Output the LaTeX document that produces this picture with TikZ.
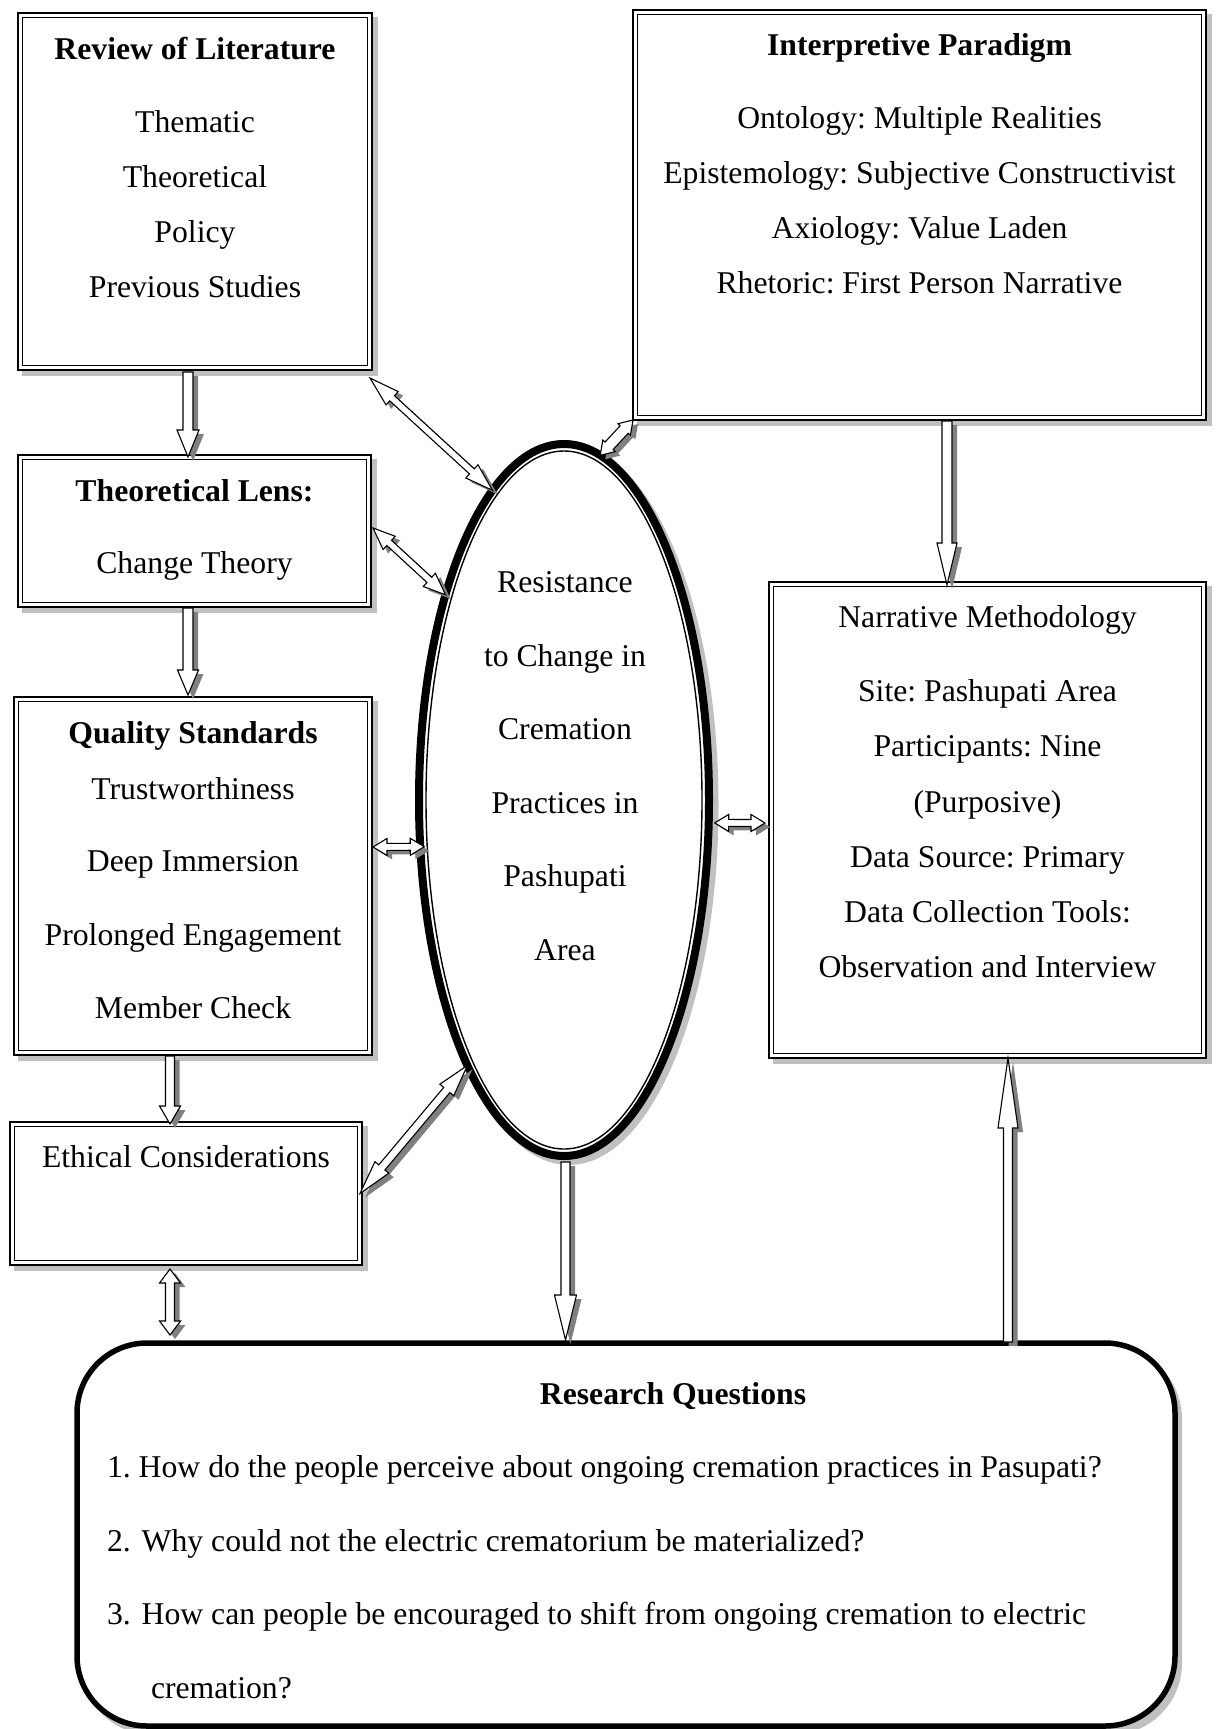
\documentclass[tikz,border=0pt]{standalone}
\usepackage{fontspec}
\setmainfont{Liberation Serif}
\usetikzlibrary{calc,shapes.geometric}
\definecolor{boxshadow}{HTML}{C0C0C0}
\definecolor{arrshadow}{HTML}{808080}
\frenchspacing

\tikzset{
  txt/.style={anchor=base, inner sep=0pt, outer sep=0pt, font=\fontsize{31.7pt}{38pt}\selectfont},
  ttl/.style={txt, font=\fontsize{31.7pt}{38pt}\selectfont\bfseries},
  ltxt/.style={txt, anchor=base west},
  framebox/.style={rectangle, draw=none, fill=white, inner sep=0pt, outer sep=0pt},
  outerline/.style={draw=black, line width=2.7pt},
  innerline/.style={draw=black, line width=1.4pt},
  arrowbody/.style={draw=black, fill=white, line width=1.1pt, line join=miter},
  arrowshade/.style={fill=arrshadow, draw=none},
}

% double-lined box with light shadow: name, x1, y1, x2, y2 (centre line of outer rule)
\newcommand{\dblbox}[5]{%
  \fill[boxshadow] ({#2+3.65},{#3+3.65}) rectangle ({#4+6.35},{#5+6.35});
  \node[framebox, minimum width={(#4-#2)*1pt}, minimum height={(#5-#3)*1pt}] (#1) at ({(#2+#4)/2},{(#3+#5)/2}) {};
  \draw[outerline] (#1.north west) rectangle (#1.south east);
  \draw[innerline] ($(#1.north west)+(4.4,4.4)$) rectangle ($(#1.south east)+(-4.4,-4.4)$);
}

\newcommand{\arrfill}[2]{%
  \path[#1] ($(q0)+#2$) -- ($(q1)+#2$) -- ($(q2)+#2$) -- ($(q3)+#2$) -- ($(q4)+#2$) --
    ($(q5)+#2$) -- ($(q6)+#2$) -- ($(q7)+#2$) -- ($(q8)+#2$) -- ($(q9)+#2$) -- cycle;
}

% block arrow: from, to, shaft half width, end head half width, end head length,
% start head half width, start head length
\newcommand{\blockarrow}[7]{%
  \coordinate (ba-a) at #1;
  \coordinate (ba-b) at #2;
  \coordinate (ba-e) at ($(ba-b)!#5pt!(ba-a)$);
  \coordinate (ba-s) at ($(ba-a)!#7pt!(ba-b)$);
  \coordinate (q0) at (ba-a);
  \coordinate (q1) at ($(ba-s)!#6pt!90:(ba-b)$);
  \coordinate (q2) at ($(ba-s)!#3pt!90:(ba-b)$);
  \coordinate (q3) at ($(ba-e)!#3pt!-90:(ba-a)$);
  \coordinate (q4) at ($(ba-e)!#4pt!-90:(ba-a)$);
  \coordinate (q5) at (ba-b);
  \coordinate (q6) at ($(ba-e)!#4pt!90:(ba-a)$);
  \coordinate (q7) at ($(ba-e)!#3pt!90:(ba-a)$);
  \coordinate (q8) at ($(ba-s)!#3pt!-90:(ba-b)$);
  \coordinate (q9) at ($(ba-s)!#6pt!-90:(ba-b)$);
  \arrfill{arrowshade}{(5,4)}
  \arrfill{arrowbody}{(0,0)}
}

\begin{document}
\begin{tikzpicture}[x=1pt, y=-1pt]
\useasboundingbox (0,0) rectangle (1219,1729);
\fill[white] (0,0) rectangle (1219,1729);

% ---------- boxes ----------
\dblbox{rol}{18}{13}{372}{370}
\dblbox{ip}{633}{10}{1206}{420}
\dblbox{tl}{18}{455}{371}{607}
\dblbox{qs}{14}{697}{372}{1055}
\dblbox{ec}{10}{1122}{362}{1265}
\dblbox{nm}{769}{582}{1206}{1058}

% research questions box
\fill[boxshadow, rounded corners=72pt] (81,1347) rectangle (1182,1735);
\node[rectangle, rounded corners=70pt, draw=black, line width=5.5pt, fill=white,
      inner sep=0pt, outer sep=0pt, minimum width=1098pt, minimum height=383pt] (rq) at (626,1534.5) {};

% central ellipse
\fill[boxshadow] (569,805) ellipse [x radius=149.5pt, y radius=360pt];
\node[ellipse, draw=black, line width=8pt, fill=white, inner sep=0pt, outer sep=0pt,
      minimum width=290pt, minimum height=712pt] (ell) at (564,800) {};
\draw[line width=1.4pt] (ell.center) ellipse [x radius=138pt, y radius=349pt];

% ---------- arrows ----------
\blockarrow{($(rol.south)+(-7,2)$)}{($(tl.north)+(-6.5,2)$)}{5}{11}{27}{5}{0}
\blockarrow{($(tl.south)+(-6.5,1)$)}{($(qs.north)+(-5,-2)$)}{5}{10.5}{25}{5}{0}
\blockarrow{($(qs.south)+(-23,1)$)}{($(ec.north)+(-16,2)$)}{4.5}{10.5}{18}{4.5}{0}
\blockarrow{($(ec.south)+(-16,4)$)}{($(rq.north)+(-456,-8)$)}{4.5}{10.5}{14}{10.5}{14}
\blockarrow{($(ip.south)+(27.5,1)$)}{($(nm.north)+(-40.5,3)$)}{5}{10}{42}{5}{0}
\blockarrow{($(ell.south)+(1.5,6)$)}{($(rq.north)+(-60.5,-3)$)}{4.5}{11}{45}{4.5}{0}
\blockarrow{($(rq.north)+(382,-1)$)}{($(nm.south)+(20.5,0)$)}{4.5}{10}{70}{4.5}{0}

\blockarrow{($(rol.south east)+(-2,8)$)}{(ell.103)}{3.5}{9}{28}{9}{30}
\blockarrow{($(tl.east)+(2,-3)$)}{(ell.120)}{3.5}{9}{22}{9}{22}
\blockarrow{(ip.south west)}{(ell.84)}{5.5}{8.5}{13}{8.5}{13}
\blockarrow{($(qs.east)+(1,-29)$)}{($(ell.198)+(4,0)$)}{3.5}{8.5}{14}{8.5}{14}
\blockarrow{($(ell.-9)+(6,0)$)}{($(nm.west)+(-4,3)$)}{3.5}{8.5}{14}{8.5}{14}
\blockarrow{($(ec.east)+(-2,0)$)}{(ell.250)}{4}{9}{32}{9}{34}

% ---------- texts ----------
\node[ttl] (rolT) at (195,59) {Review of Literature};
\node[txt] (rol1) at (195,132) {Thematic};
\node[txt] (rol2) at (195,187) {Theoretical};
\node[txt] (rol3) at (195,242) {Policy};
\node[txt] (rol4) at (195,297) {Previous Studies};

\node[ttl] (ipT) at (919.5,55) {Interpretive Paradigm};
\node[txt] (ip1) at (919.5,128) {Ontology: Multiple Realities};
\node[txt] (ip2) at (919.5,183) {Epistemology: Subjective Constructivist};
\node[txt] (ip3) at (919.5,238) {Axiology: Value Laden};
\node[txt] (ip4) at (919.5,293) {Rhetoric: First Person Narrative};

\node[ttl] (tlT) at (194.5,501) {Theoretical Lens:};
\node[txt] (tl1) at (194.5,573) {Change Theory};

\node[ttl] (qsT) at (193,743.5) {Quality Standards};
\node[txt] (qs1) at (193,799) {Trustworthiness};
\node[txt] (qs2) at (193,871.5) {Deep Immersion};
\node[txt] (qs3) at (193,945) {Prolonged Engagement};
\node[txt] (qs4) at (193,1018) {Member Check};

\node[txt] (ec1) at (186,1167) {Ethical Considerations};

\node[txt] (e1) at (565,592) {Resistance};
\node[txt] (e2) at (565,666) {to Change in};
\node[txt] (e3) at (565,739) {Cremation};
\node[txt] (e4) at (565,813) {Practices in};
\node[txt] (e5) at (565,886) {Pashupati};
\node[txt] (e6) at (565,960) {Area};

\node[txt] (nmT) at (987.5,627) {Narrative Methodology};
\node[txt] (nm1) at (987.5,701.5) {Site: Pashupati Area};
\node[txt] (nm2) at (987.5,756.5) {Participants: Nine};
\node[txt] (nm3) at (987.5,812) {(Purposive)};
\node[txt] (nm4) at (987.5,867) {Data Source: Primary};
\node[txt] (nm5) at (987.5,922) {Data Collection Tools:};
\node[txt] (nm6) at (987.5,977) {Observation and Interview};

\node[ttl] (rqT) at (673,1404) {Research Questions};
\node[ltxt] (rq1) at (107,1477.5) {1. How do the people perceive about ongoing cremation practices in Pasupati?};
\node[ltxt] (rq2) at (107,1551) {2.\kern3pt\ Why could not the electric crematorium be materialized?};
\node[ltxt] (rq3) at (107,1624.5) {3.\kern3pt\ How can people be encouraged to shift from ongoing cremation to electric};
\node[ltxt] (rq4) at (151,1698) {cremation?};
\end{tikzpicture}
\end{document}
